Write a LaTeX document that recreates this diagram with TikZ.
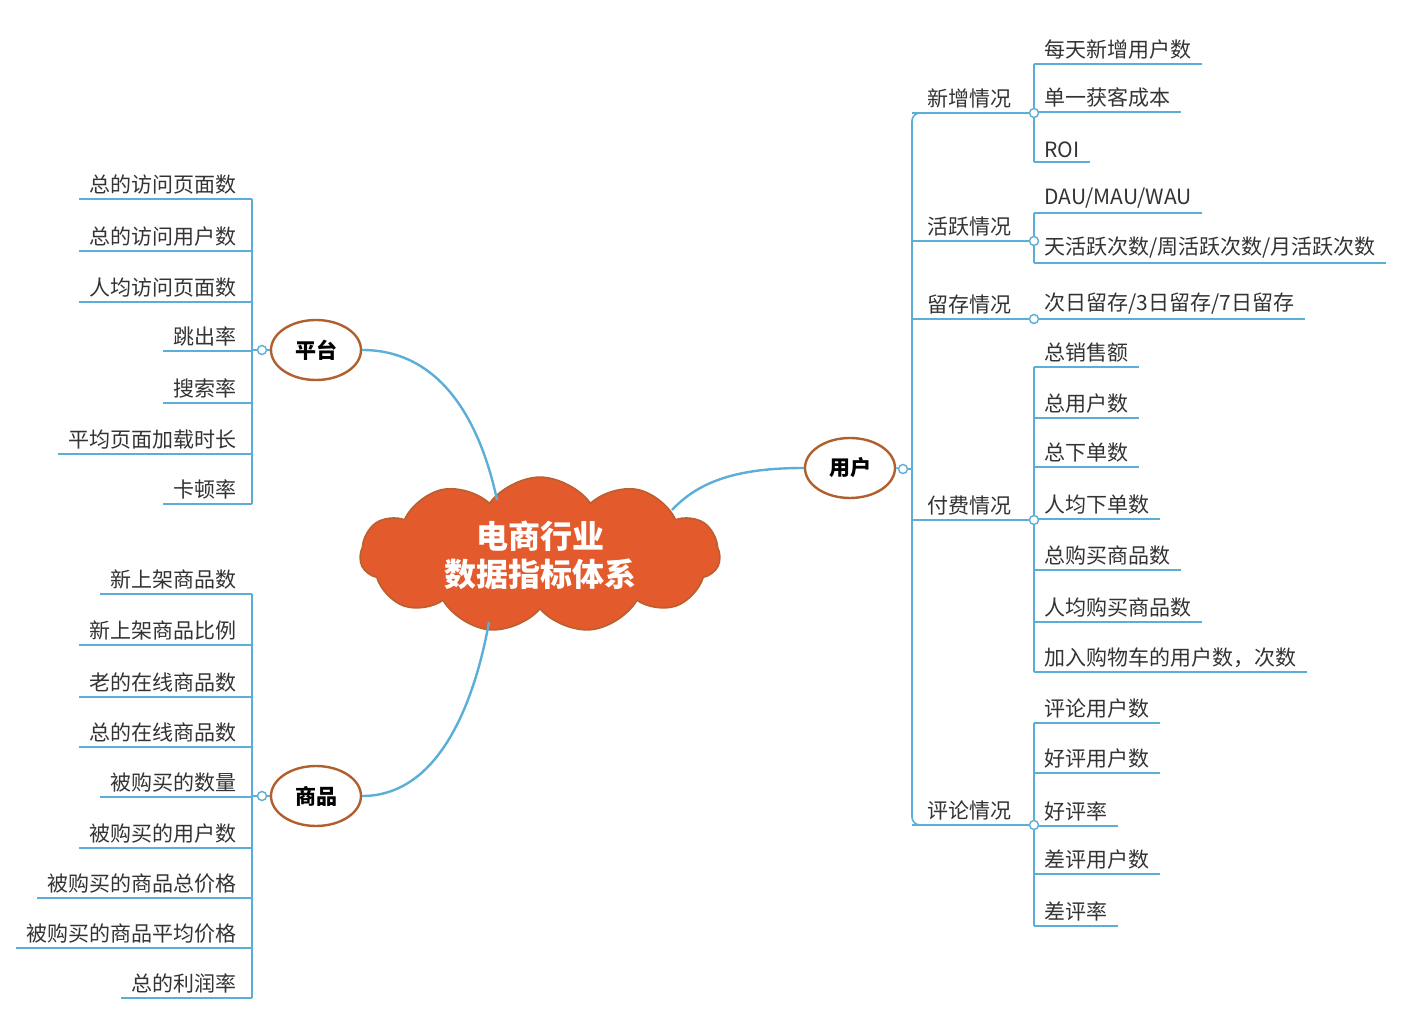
\documentclass[tikz,border=0pt]{standalone}
\usepackage{fontspec}
\setmainfont{Noto Sans CJK SC}
\usetikzlibrary{shapes.symbols,shapes.geometric}
\definecolor{lb}{HTML}{5AAED8}
\definecolor{br}{HTML}{B0602E}
\definecolor{tx}{HTML}{333333}
\definecolor{cl}{HTML}{E35A2D}
\begin{document}
\begin{tikzpicture}[x=0.5pt,y=-0.5pt,
  ln/.style={lb,line width=0.8pt},
  lt/.style={font=\fontsize{10.5}{12}\selectfont,text=tx,inner xsep=5pt,inner ysep=2pt},
  main/.style={ellipse,draw=br,line width=1.2pt,fill=white,minimum width=45pt,minimum height=30pt,font=\fontsize{10.5}{12}\selectfont\bfseries,text=black},
  dot/.style={circle,draw=lb,fill=white,line width=0.7pt,inner sep=0pt,minimum size=4.5pt}]
\useasboundingbox (0,0) rectangle (1426,1026);
% cloud
\node[cloud,cloud puffs=11,cloud puff arc=110,aspect=2.6,fill=cl,draw=br!80!cl,line width=0.8pt,minimum width=180pt,minimum height=72pt,align=center,text=white,font=\fontsize{16}{19}\selectfont\bfseries] (c) at (540,555) {电商行业\\数据指标体系};
\node[main] (pt) at (316,350) {平台};
\node[main] (sp) at (316,796) {商品};
\node[main] (yh) at (850,468) {用户};
\draw[ln,line width=1.2pt] (pt.east) .. controls (440,350) and (480,420) .. (497,500);
\draw[ln,line width=1.2pt] (sp.east) .. controls (440,796) and (475,700) .. (489,622);
\draw[ln,line width=1.2pt] (yh.west) .. controls (740,468) and (700,480) .. (672,510);
% left trees
\node[dot] (dpt) at (262,350) {};
\node[dot] (dsp) at (262,796) {};
\draw[ln] (dpt) -- (pt.west);
\draw[ln] (dsp) -- (sp.west);
\draw[ln] (dpt) -- (252,350);
\draw[ln] (dsp) -- (252,796);
\draw[ln,rounded corners=4pt] (252,199) -- (252,504);
\foreach \t/\y [count=\i] in {总的访问页面数/199,总的访问用户数/251,人均访问页面数/302,跳出率/351,搜索率/403,平均页面加载时长/454,卡顿率/504}{
  \node[lt,anchor=south east] (p\i) at (247,\y) {\t};
  \draw[ln] (p\i.south west) -- (252,\y);
}
\draw[ln] (252,594) -- (252,998);
\foreach \t/\y [count=\i] in {新上架商品数/594,新上架商品比例/645,老的在线商品数/697,总的在线商品数/747,被购买的数量/797,被购买的用户数/848,被购买的商品总价格/898,被购买的商品平均价格/948,总的利润率/998}{
  \node[lt,anchor=south east] (s\i) at (247,\y) {\t};
  \draw[ln] (s\i.south west) -- (252,\y);
}
% right tree
\node[dot] (dyh) at (903,469) {};
\draw[ln] (yh.east) -- (dyh);
\draw[ln] (dyh) -- (912,469);
\draw[ln,rounded corners=4pt] (1034,113) -- (912,113) -- (912,825) -- (1034,825);
\foreach \t/\y [count=\i] in {新增情况/113,活跃情况/241,留存情况/319,付费情况/520,评论情况/825}{
  \node[lt,anchor=south west] (b\i) at (917,\y) {\t};
  \draw[ln] (912,\y) -- (1034,\y);
}
\newcommand\leaf[3]{\node[lt,anchor=south west] (#1) at (1034,#3) {#2};\draw[ln] (1034,#3) -- (#1.south east);}
% 新增
\draw[ln,rounded corners=4pt] (1034,64) -- (1034,162);
\leaf{a1}{每天新增用户数}{64}\leaf{a2}{单一获客成本}{112}\leaf{a3}{ROI}{162}
% 活跃
\draw[ln,rounded corners=4pt] (1034,213) -- (1034,263);
\leaf{h1}{DAU/MAU/WAU}{213}\leaf{h2}{天活跃次数/周活跃次数/月活跃次数}{263}
% 留存
\leaf{l1}{次日留存/3日留存/7日留存}{319}
% 付费
\draw[ln] (1034,367) -- (1034,672);
\foreach \t/\y [count=\i] in {总销售额/367,总用户数/418,总下单数/467,人均下单数/519,总购买商品数/570,人均购买商品数/622,加入购物车的用户数，次数/672}{\leaf{f\i}{\t}{\y}}
% 评论
\draw[ln] (1034,723) -- (1034,926);
\foreach \t/\y [count=\i] in {评论用户数/723,好评用户数/773,好评率/826,差评用户数/874,差评率/926}{\leaf{r\i}{\t}{\y}}
\foreach \y in {113,241,319,520,825}{\node[dot] at (1034,\y) {};}
\end{tikzpicture}
\end{document}
